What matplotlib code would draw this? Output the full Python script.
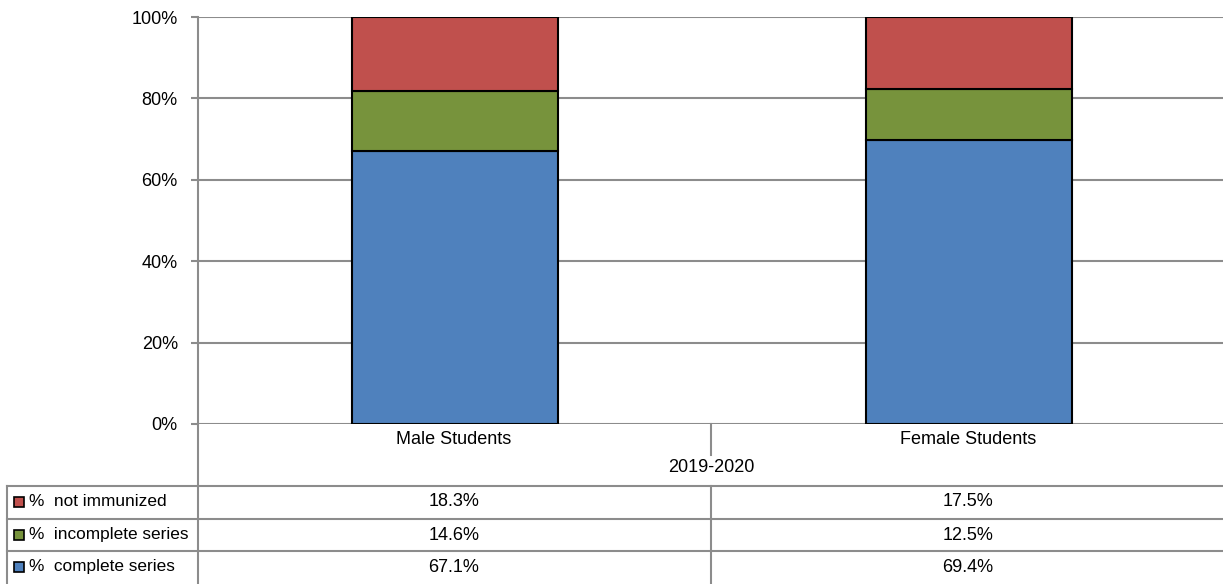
import matplotlib
matplotlib.use("Agg")
import matplotlib.pyplot as plt
from matplotlib.lines import Line2D
from matplotlib.patches import Rectangle
import numpy as np

plt.rcParams['font.family'] = ['Liberation Sans Narrow', 'Liberation Sans', 'DejaVu Sans']

# data
categories = ['Male Students', 'Female Students']
period = '2019-2020'
series = ['%  complete series', '%  incomplete series', '%  not immunized']
complete = [67.1, 69.4]
incomplete = [14.6, 12.5]
not_immunized = [18.3, 17.5]
colors = ['#4F81BD', '#77933C', '#C0504D']

W, H = 1223, 584
fig = plt.figure(figsize=(W / 100, H / 100), dpi=100)

def fx(px):
    return px / W

def fy(py):
    return 1 - py / H

ax_l, ax_r, ax_t, ax_b = 198, 1226, 17, 424
ax = fig.add_axes([fx(ax_l), fy(ax_b), fx(ax_r - ax_l), fy(ax_t) - fy(ax_b)])

# 100% stacked: normalise each column
vals = np.array([complete, incomplete, not_immunized])
shares = vals / vals.sum(axis=0) * 100
x = np.arange(len(categories))
bottom = np.zeros(len(categories))
for s, c in zip(shares, colors):
    ax.bar(x, s, bottom=bottom, width=0.40, color=c, edgecolor='black', linewidth=1.5, zorder=3)
    bottom += s

ax.set_xlim(-0.5, len(categories) - 0.5)
ax.set_ylim(0, 100)
ax.set_yticks(np.arange(0, 101, 20))
ax.set_yticklabels([f'{v}%' for v in range(0, 101, 20)], fontsize=13)
ax.set_xticks([])
ax.grid(axis='y', color='#8c8c8c', linewidth=1.5, zorder=0)
ax.tick_params(axis='y', length=5, width=1.5, color='#8c8c8c', pad=9.5)
for sp in ['top', 'right', 'bottom']:
    ax.spines[sp].set_visible(False)
ax.spines['left'].set_color('#8c8c8c')
ax.spines['left'].set_linewidth(1.5)

# data table below the plot
gray = '#8c8c8c'
def hline(y, x0, x1):
    fig.add_artist(Line2D([fx(x0), fx(x1)], [fy(y), fy(y)], color=gray, lw=1.5))

def vline(x0, y0, y1):
    fig.add_artist(Line2D([fx(x0), fx(x0)], [fy(y0), fy(y1)], color=gray, lw=1.5))

row_lines = [486, 519, 551]
for y in row_lines:
    hline(y, 7, 1223)
vline(7, 486, 584)
vline(198, 424, 584)
vline(711, 424, 455)
vline(711, 486, 584)

cat_x = [454, 968]
for cx, name in zip(cat_x, categories):
    fig.text(fx(cx), fy(439), name, ha='center', va='center', fontsize=13)
fig.text(fx(711), fy(468), period, ha='center', va='center', fontsize=13)

rows = [(series[2], not_immunized, colors[2]),
        (series[1], incomplete, colors[1]),
        (series[0], complete, colors[0])]
row_mid = [502, 535, 567]
for yc, (label, values, c) in zip(row_mid, rows):
    fig.add_artist(Rectangle((fx(14), fy(yc + 5)), fx(10), fy(yc - 5) - fy(yc + 5),
                             facecolor=c, edgecolor='black', linewidth=1.2))
    fig.text(fx(29), fy(yc), label, ha='left', va='center', fontsize=12.4)
    for cx, v in zip(cat_x, values):
        fig.text(fx(cx), fy(yc), f'{v}%', ha='center', va='center', fontsize=13)

fig.savefig('out.png', dpi=100)
